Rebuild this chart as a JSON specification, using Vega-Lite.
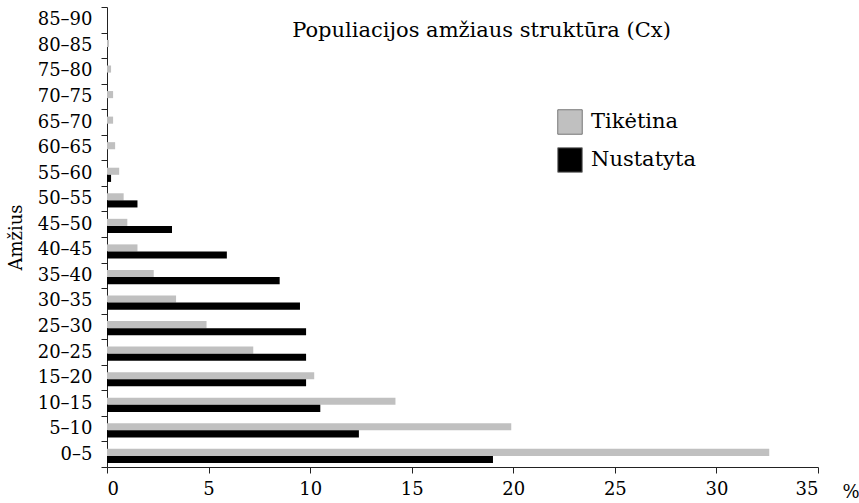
{
  "$schema": "https://vega.github.io/schema/vega-lite/v6.json",
  "width": 711,
  "height": 460,
  "autosize": "none",
  "padding": {"left": 107, "top": 7, "right": 41, "bottom": 36},
  "background": "white",
  "title": {
    "text": "Populiacijos amžiaus struktūra (Cx)",
    "anchor": "middle",
    "orient": "top",
    "offset": -43,
    "dx": 19,
    "font": "DejaVu Serif",
    "fontSize": 21,
    "fontWeight": "normal",
    "color": "#000"
  },
  "data": {
    "values": [
      {"age": "0–5", "series": "Tikėtina", "value": 32.6},
      {"age": "0–5", "series": "Nustatyta", "value": 19.0},
      {"age": "5–10", "series": "Tikėtina", "value": 19.9},
      {"age": "5–10", "series": "Nustatyta", "value": 12.4},
      {"age": "10–15", "series": "Tikėtina", "value": 14.2},
      {"age": "10–15", "series": "Nustatyta", "value": 10.5},
      {"age": "15–20", "series": "Tikėtina", "value": 10.2},
      {"age": "15–20", "series": "Nustatyta", "value": 9.8},
      {"age": "20–25", "series": "Tikėtina", "value": 7.2},
      {"age": "20–25", "series": "Nustatyta", "value": 9.8},
      {"age": "25–30", "series": "Tikėtina", "value": 4.9},
      {"age": "25–30", "series": "Nustatyta", "value": 9.8},
      {"age": "30–35", "series": "Tikėtina", "value": 3.4},
      {"age": "30–35", "series": "Nustatyta", "value": 9.5},
      {"age": "35–40", "series": "Tikėtina", "value": 2.3},
      {"age": "35–40", "series": "Nustatyta", "value": 8.5},
      {"age": "40–45", "series": "Tikėtina", "value": 1.5},
      {"age": "40–45", "series": "Nustatyta", "value": 5.9},
      {"age": "45–50", "series": "Tikėtina", "value": 1.0},
      {"age": "45–50", "series": "Nustatyta", "value": 3.2},
      {"age": "50–55", "series": "Tikėtina", "value": 0.82},
      {"age": "50–55", "series": "Nustatyta", "value": 1.5},
      {"age": "55–60", "series": "Tikėtina", "value": 0.6},
      {"age": "55–60", "series": "Nustatyta", "value": 0.2},
      {"age": "60–65", "series": "Tikėtina", "value": 0.4},
      {"age": "60–65", "series": "Nustatyta", "value": 0},
      {"age": "65–70", "series": "Tikėtina", "value": 0.3},
      {"age": "65–70", "series": "Nustatyta", "value": 0},
      {"age": "70–75", "series": "Tikėtina", "value": 0.3},
      {"age": "70–75", "series": "Nustatyta", "value": 0},
      {"age": "75–80", "series": "Tikėtina", "value": 0.2},
      {"age": "75–80", "series": "Nustatyta", "value": 0},
      {"age": "80–85", "series": "Tikėtina", "value": 0.1},
      {"age": "80–85", "series": "Nustatyta", "value": 0},
      {"age": "85–90", "series": "Tikėtina", "value": 0},
      {"age": "85–90", "series": "Nustatyta", "value": 0}
    ]
  },
  "mark": {"type": "bar", "strokeWidth": 0},
  "encoding": {
    "y": {
      "field": "age",
      "type": "nominal",
      "sort": ["85–90", "80–85", "75–80", "70–75", "65–70", "60–65", "55–60", "50–55", "45–50", "40–45", "35–40", "30–35", "25–30", "20–25", "15–20", "10–15", "5–10", "0–5"],
      "scale": {"paddingInner": 0, "paddingOuter": 0},
      "axis": {
        "title": "Amžius",
        "titleFont": "DejaVu Serif",
        "titleFontSize": 18,
        "titleFontWeight": "normal",
        "titleColor": "#000",
        "titlePadding": 12,
        "labelFont": "DejaVu Serif",
        "labelFontSize": 18,
        "labelColor": "#000",
        "labelPadding": 9,
        "tickBand": "extent",
        "tickSize": 6,
        "tickColor": "#222",
        "domainColor": "#222",
        "grid": false
      }
    },
    "yOffset": {
      "field": "series",
      "type": "nominal",
      "sort": ["Tikėtina", "Nustatyta"],
      "scale": {"paddingInner": 0, "paddingOuter": 0.8, "align": 0.65}
    },
    "x": {
      "field": "value",
      "type": "quantitative",
      "scale": {"domain": [0, 35], "nice": false},
      "axis": {
        "values": [0, 5, 10, 15, 20, 25, 30, 35],
        "title": "%",
        "titleFont": "DejaVu Serif",
        "titleFontSize": 18,
        "titleFontWeight": "normal",
        "titleColor": "#000",
        "titleAnchor": "end",
        "titleAlign": "left",
        "titleBaseline": "middle",
        "titleX": 735,
        "titleY": 25,
        "labelFont": "DejaVu Serif",
        "labelFontSize": 18,
        "labelColor": "#000",
        "labelPadding": 7,
        "tickSize": 6,
        "tickColor": "#222",
        "domainColor": "#222",
        "grid": false
      }
    },
    "color": {
      "field": "series",
      "type": "nominal",
      "sort": ["Tikėtina", "Nustatyta"],
      "scale": {"domain": ["Tikėtina", "Nustatyta"], "range": ["#c0c0c0", "#000000"]},
      "legend": {
        "title": null,
        "orient": "none",
        "legendX": 450,
        "legendY": 102,
        "symbolType": "square",
        "symbolSize": 600,
        "symbolStrokeColor": "#777",
        "symbolStrokeWidth": 1,
        "labelFont": "DejaVu Serif",
        "labelFontSize": 21,
        "labelColor": "#000",
        "labelOffset": 8,
        "rowPadding": 8
      }
    }
  },
  "config": {
    "view": {"stroke": null}
  }
}
